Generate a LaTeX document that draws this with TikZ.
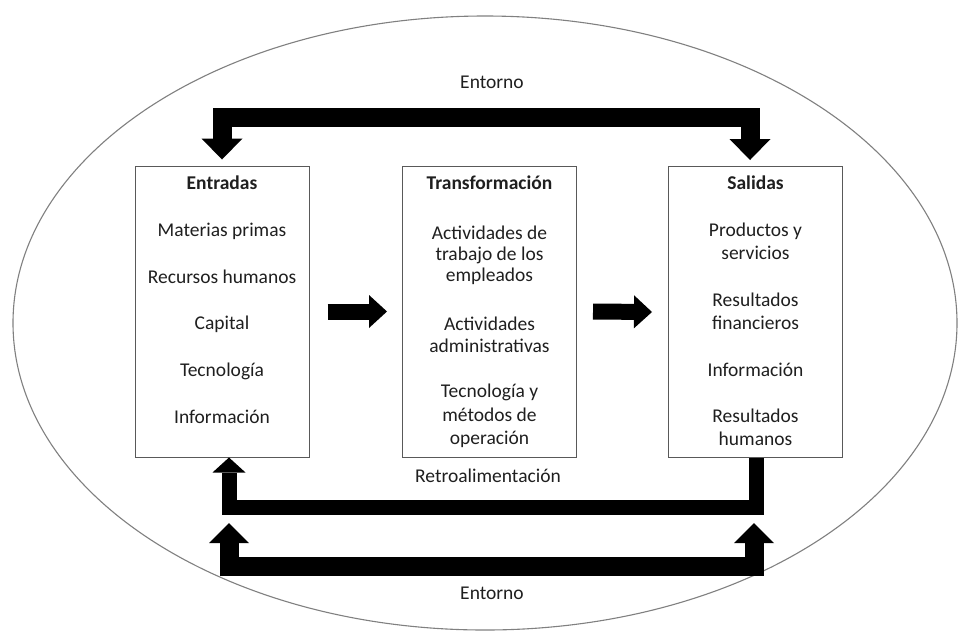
\documentclass[tikz,border=0pt]{standalone}
\usepackage{fontspec}
\setmainfont{Carlito}
\usetikzlibrary{arrows.meta}
\begin{document}
\begin{tikzpicture}[x=1pt,y=-1pt,
  box/.style={draw=black!65, line width=1pt, minimum width=174pt, minimum height=291pt, inner sep=0pt},
  lbl/.style={anchor=base, inner sep=0pt, text=black!88, font=\fontsize{19.5}{22}\selectfont},
  hd/.style={lbl, font=\fontsize{19.5}{22}\selectfont\bfseries},
  fat/.style={line width=19pt, line join=miter, line cap=butt},
]
\useasboundingbox (0,0) rectangle (960,630);
\clip (0,0) rectangle (960,630);
\fill[white] (0,0) rectangle (960,630);

% environment ellipse
\draw[black!50, line width=1.1pt] (485,323) ellipse [x radius=472, y radius=307];

% boxes
\node[box] (ent) at (222,311.5) {};
\node[box] (tra) at (489.5,311.5) {};
\node[box] (sal) at (755.5,312) {};

% Entradas
\node[hd]  (e0) at (222,189) {Entradas};
\node[lbl] (e1) at (222,236) {Materias primas};
\node[lbl] (e2) at (222,283) {Recursos humanos};
\node[lbl] (e3) at (222,329) {Capital};
\node[lbl] (e4) at (222,376) {Tecnología};
\node[lbl] (e5) at (222,423) {Información};

% Transformacion
\node[hd]  (t0) at (489.5,189) {Transformación};
\node[lbl] (t1) at (489.5,239) {Actividades de};
\node[lbl] (t2) at (489.5,260) {trabajo de los};
\node[lbl] (t3) at (489.5,281) {empleados};
\node[lbl] (t4) at (489.5,330) {Actividades};
\node[lbl] (t5) at (489.5,352) {administrativas};
\node[lbl] (t6) at (489.5,397) {Tecnología y};
\node[lbl] (t7) at (489.5,421) {métodos de};
\node[lbl] (t8) at (489.5,444) {operación};

% Salidas
\node[hd]  (s0) at (755.5,189) {Salidas};
\node[lbl] (s1) at (755.5,236) {Productos y};
\node[lbl] (s2) at (755.5,259) {servicios};
\node[lbl] (s3) at (755.5,306) {Resultados};
\node[lbl] (s4) at (755.5,329) {financieros};
\node[lbl] (s5) at (755.5,376) {Información};
\node[lbl] (s6) at (755.5,422) {Resultados};
\node[lbl] (s7) at (755.5,445) {humanos};

% other labels
\node[lbl] (envT) at (492,88) {Entorno};
\node[lbl] (retro) at (488,482) {Retroalimentación};
\node[lbl] (envB) at (492,599) {Entorno};

% top environment arrow
\coordinate (tl) at (222,117);
\coordinate (tr) at (750,117);
\draw[fat, {Triangle[width=41pt,length=21pt,line width=0pt]}-{Triangle[width=41pt,length=21pt,line width=0pt]}]
  ([yshift=6pt]ent.north) -- (tl) -- (tr) -- ([yshift=6pt]sal.north -| tr);

% process arrows
\draw[line width=16pt, -{Triangle[width=33pt,length=18pt,line width=0pt]}]
  ([xshift=18pt]ent.east) -- ([xshift=-15pt]tra.west);
\draw[line width=16pt, -{Triangle[width=33pt,length=18pt,line width=0pt]}]
  ([xshift=16pt]tra.east) -- ([xshift=-16pt]sal.west);

% feedback arrow
\coordinate (fbR) at (756,507.5);
\coordinate (fbL) at (229,507.5);
\draw[line width=15pt, line join=miter, -{Triangle[width=33pt,length=15pt,line width=0pt]}]
  (sal.south -| fbR) -- (fbR) -- (fbL) -- (ent.south -| fbL);

% bottom environment arrow
\coordinate (blt) at (229,523);
\coordinate (bl) at (229,566.5);
\coordinate (br) at (754,566.5);
\coordinate (brt) at (754,523);
\draw[fat, {Triangle[width=40pt,length=20pt,line width=0pt]}-{Triangle[width=40pt,length=20pt,line width=0pt]}]
  (blt) -- (bl) -- (br) -- (brt);
\end{tikzpicture}
\end{document}
